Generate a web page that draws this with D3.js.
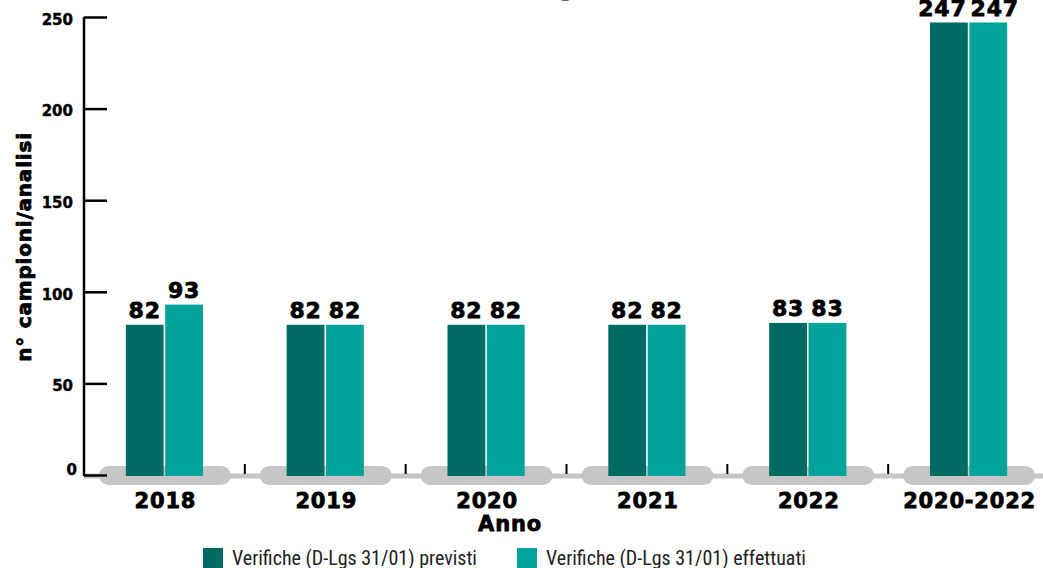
<!DOCTYPE html>
<html>
<head>
<meta charset="utf-8">
<script src="https://cdn.jsdelivr.net/npm/d3@7"></script>
<style>
    body { margin: 0; background: #fff; }
    svg { display: block; }
    .heavy { font-family: "DejaVu Sans", sans-serif; font-weight: bold; fill: #000; stroke: #000; stroke-width: 0.8px; letter-spacing: 0.8px; }
    .legend text { font-family: "Liberation Sans Narrow", "Roboto Condensed", "Liberation Sans", sans-serif; font-size: 20px; fill: #222; }
</style>
</head>
<body>
<svg class="chart" width="1043" height="568"></svg>
<script>
var categories = ["2018", "2019", "2020", "2021", "2022", "2020-2022"];
var previsti = [82, 82, 82, 82, 83, 247];
var effettuati = [93, 82, 82, 82, 83, 247];
var seriesNames = ["Verifiche (D-Lgs 31/01) previsti", "Verifiche (D-Lgs 31/01) effettuati"];
var seriesColors = ["#006b63", "#00a39a"];
var yTicks = [0, 50, 100, 150, 200, 250];

var svg = d3.select("svg.chart"),
    width = +svg.attr("width"),
    height = +svg.attr("height");

var x0 = d3.scaleBand().domain(categories).range([84, 1049]).paddingInner(0.52).paddingOuter(0.26),
    x1 = d3.scaleBand().domain(seriesNames).range([0, x0.bandwidth()]).paddingInner(0.04),
    y = d3.scaleLinear().domain([0, 250]).range([475, 17]);

var color = d3.scaleOrdinal().domain(seriesNames).range(seriesColors);

var data = categories.map(function(c, i) {
    return {cat: c, values: [
        {name: seriesNames[0], value: previsti[i]},
        {name: seriesNames[1], value: effettuati[i]}
    ]};
});

// title (cut off at the top in the original)
svg.append("text")
    .attr("x", 535)
    .attr("y", -3)
    .attr("text-anchor", "middle")
    .style("font-family", "'DejaVu Sans', sans-serif")
    .style("font-weight", "bold")
    .style("font-size", "20px")
    .style("fill", "#666")
    .text("Verifiche D-Lgs 31/01");

// grey x "axis" line with pills
var step = x0.step();
svg.append("line")
    .attr("x1", 84).attr("x2", width)
    .attr("y1", y(0) + 1).attr("y2", y(0) + 1)
    .attr("stroke", "#c6c6c6")
    .attr("stroke-width", 5);

svg.selectAll(".pill")
    .data(categories)
    .enter().append("rect")
        .attr("class", "pill")
        .attr("x", function(d) { return x0(d) - step * 0.26 + 15; })
        .attr("width", step - 29)
        .attr("y", y(0) - 9)
        .attr("height", 19)
        .attr("rx", 9.5)
        .attr("fill", "#c6c6c6");

// band separators
svg.selectAll(".sep")
    .data(categories.slice(1))
    .enter().append("line")
        .attr("class", "sep")
        .attr("x1", function(d) { return x0(d) - step * 0.26; })
        .attr("x2", function(d) { return x0(d) - step * 0.26; })
        .attr("y1", y(0) - 11)
        .attr("y2", y(0) - 1)
        .attr("stroke", "#000")
        .attr("stroke-width", 2);

// y axis
var yAxis = d3.axisRight(y).tickValues(yTicks).tickSize(23).tickFormat("");
var yg = svg.append("g")
    .attr("transform", "translate(84,0)")
    .call(yAxis);
yg.select(".domain").attr("d", "M0," + y(250) + "V" + (y(0) + 1)).attr("stroke", "#000").attr("stroke-width", 2.5);
yg.selectAll(".tick line").attr("stroke", "#000").attr("stroke-width", 2.5);

svg.selectAll(".ylabel")
    .data(yTicks)
    .enter().append("text")
        .attr("class", "ylabel heavy")
        .attr("x", function(d) { return d === 0 ? 77 : 73; })
        .attr("y", function(d) { return y(d) + (d === 0 ? -5 : 2.5); })
        .attr("dy", "0.35em")
        .attr("text-anchor", "end")
        .style("font-size", "15px")
        .style("stroke-width", "0.4px")
        .style("letter-spacing", "0px")
        .text(function(d) { return d; });

// bars
var groups = svg.selectAll(".grp")
    .data(data)
    .enter().append("g")
        .attr("class", "grp")
        .attr("transform", function(d) { return "translate(" + x0(d.cat) + ",0)"; });

groups.selectAll("rect")
    .data(function(d) { return d.values; })
    .enter().append("rect")
        .attr("x", function(d) { return x1(d.name); })
        .attr("width", x1.bandwidth())
        .attr("y", function(d) { return y(d.value); })
        .attr("height", function(d) { return y(0) + 1 - y(d.value); })
        .attr("fill", function(d) { return color(d.name); });

groups.each(function() {
    var labels = d3.select(this).selectAll(".val")
        .data(function(d) { return d.values; })
        .enter().append("text")
            .attr("class", "val heavy")
            .attr("x", function(d) { return x1(d.name) + x1.bandwidth() / 2; })
            .attr("y", function(d) { return y(d.value) - 7; })
            .attr("text-anchor", "middle")
            .style("font-size", "22px")
            .text(function(d) { return d.value; });
    // push the two labels apart if they overlap
    var nodes = labels.nodes();
    var w0 = nodes[0].getComputedTextLength(), w1 = nodes[1].getComputedTextLength();
    var c0 = +nodes[0].getAttribute("x"), c1 = +nodes[1].getAttribute("x");
    var overlap = (c0 + w0 / 2 + 4) - (c1 - w1 / 2);
    if (overlap > 0) {
        nodes[0].setAttribute("x", c0 - overlap / 2);
        nodes[1].setAttribute("x", c1 + overlap / 2);
    }
});

// category labels
svg.selectAll(".cat")
    .data(categories)
    .enter().append("text")
        .attr("class", "cat heavy")
        .attr("x", function(d) { return x0(d) + x0.bandwidth() / 2 + 1; })
        .attr("y", 508)
        .attr("text-anchor", "middle")
        .style("font-size", "21px")
        .text(function(d) { return d; });

// axis titles
svg.append("text")
    .attr("class", "heavy")
    .attr("x", 510)
    .attr("y", 531)
    .attr("text-anchor", "middle")
    .style("font-size", "21px")
    .text("Anno");

svg.append("text")
    .attr("class", "heavy")
    .attr("transform", "translate(31,247) rotate(-90)")
    .attr("text-anchor", "middle")
    .style("font-size", "20px")
    .text("n° campioni/analisi");

// legend
var legendX = [203, 517];
var legend = svg.selectAll(".legend")
    .data(seriesNames)
    .enter().append("g")
        .attr("class", "legend")
        .attr("transform", function(d, i) { return "translate(" + legendX[i] + ",548)"; });

legend.append("rect")
    .attr("width", 20)
    .attr("height", 20)
    .attr("fill", function(d) { return color(d); });

legend.append("text")
    .attr("x", 29)
    .attr("y", 17)
    .text(function(d) { return d; });
</script>
</body>
</html>
